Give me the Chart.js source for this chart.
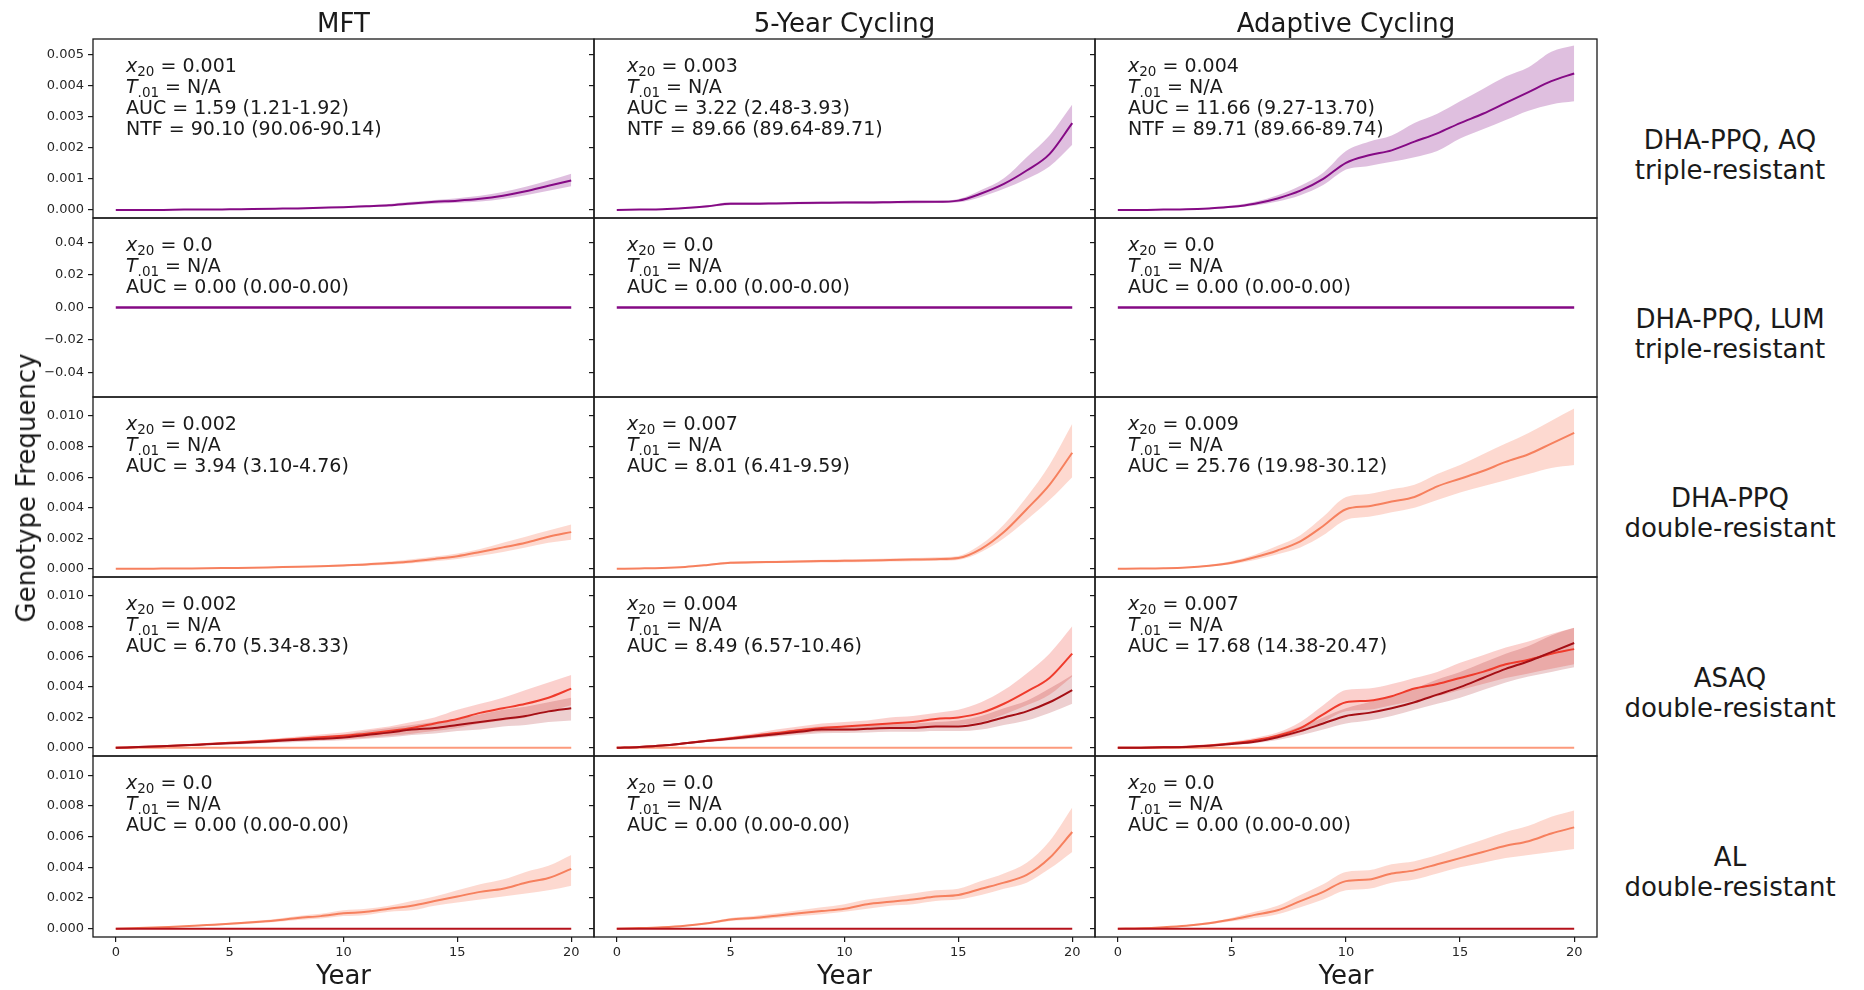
<!DOCTYPE html>
<html>
<head>
<meta charset="utf-8">
<script src="https://cdn.jsdelivr.net/npm/chart.js@4.4.1/dist/chart.umd.min.js"></script>
<style>
html, body { margin: 0; padding: 0; background: #fff; }
#fig { position: relative; width: 1864px; height: 990px; overflow: hidden; font-family: "DejaVu Sans", sans-serif; color: #1a1a1a; }
#fig canvas { position: absolute; }
.lbl { position: absolute; white-space: nowrap; transform: translate(-50%, -50%); font-size: 26px; }
.rowlab { position: absolute; white-space: nowrap; transform: translateX(-50%); text-align: center; font-size: 26px; line-height: 30px; }
.ylab { position: absolute; white-space: nowrap; transform: translate(-50%, -50%) rotate(-90deg); font-size: 26px; }
</style>
</head>
<body>
<div id="fig"></div>
<script>
// ---- data -------------------------------------------------------------
const years = [0, 1, 2, 3, 4, 5, 6, 7, 8, 9, 10, 11, 12, 13, 14, 15, 16, 17, 18, 19, 20];
const zeroLine = [0, 0, 0, 0, 0, 0, 0, 0, 0, 0, 0, 0, 0, 0, 0, 0, 0, 0, 0, 0, 0];

const strategies = ['MFT', '5-Year Cycling', 'Adaptive Cycling'];
const genotypes = [
  ['DHA-PPQ, AQ', 'triple-resistant'],
  ['DHA-PPQ, LUM', 'triple-resistant'],
  ['DHA-PPQ', 'double-resistant'],
  ['ASAQ', 'double-resistant'],
  ['AL', 'double-resistant']
];

const xTicks = [0, 5, 10, 15, 20];
const xTickLabels = ['0', '5', '10', '15', '20'];
const yTicksTriple = [0, 0.001, 0.002, 0.003, 0.004, 0.005];
const yLabelsTriple = ['0.000', '0.001', '0.002', '0.003', '0.004', '0.005'];
const yTicksFlat = [-0.04, -0.02, 0, 0.02, 0.04];
const yLabelsFlat = ['\u22120.04', '\u22120.02', '0.00', '0.02', '0.04'];
const yTicksDouble = [0, 0.002, 0.004, 0.006, 0.008, 0.010];
const yLabelsDouble = ['0.000', '0.002', '0.004', '0.006', '0.008', '0.010'];

// DHA-PPQ, AQ triple-resistant
const aqMftMean = [0, 0, 0, 0.00001, 0.00001, 0.00002, 0.00003, 0.00004, 0.00005, 0.00007, 0.00009, 0.00012, 0.00015, 0.00021, 0.00026, 0.0003, 0.00036, 0.00046, 0.0006, 0.00078, 0.00095];
const aqMftLo = [0, 0, 0, 0, 0.00001, 0.00001, 0.00002, 0.00003, 0.00004, 0.00005, 0.00007, 0.00009, 0.00011, 0.00016, 0.0002, 0.00023, 0.00027, 0.00035, 0.00047, 0.00062, 0.00076];
const aqMftHi = [0, 0, 0, 0.00001, 0.00002, 0.00003, 0.00004, 0.00005, 0.00007, 0.00009, 0.00011, 0.00015, 0.00019, 0.00026, 0.00032, 0.00038, 0.00046, 0.00058, 0.00075, 0.00095, 0.00117];
const aqCycMean = [0, 0.00001, 0.00002, 0.00006, 0.00012, 0.0002, 0.0002, 0.00021, 0.00022, 0.00023, 0.00024, 0.00024, 0.00025, 0.00026, 0.00026, 0.0003, 0.00053, 0.00084, 0.00127, 0.0018, 0.0028];
const aqCycLo = [0, 0.00001, 0.00001, 0.00004, 0.00009, 0.00016, 0.00017, 0.00018, 0.00018, 0.00019, 0.0002, 0.0002, 0.00021, 0.00021, 0.00022, 0.00025, 0.00042, 0.00068, 0.001, 0.0014, 0.0021];
const aqCycHi = [0, 0.00001, 0.00003, 0.00008, 0.00015, 0.00025, 0.00025, 0.00025, 0.00026, 0.00027, 0.00028, 0.00029, 0.00029, 0.0003, 0.0003, 0.00035, 0.00064, 0.00102, 0.0017, 0.0024, 0.0034];
const aqAdaMean = [0, 0, 0.00001, 0.00002, 0.00005, 0.0001, 0.0002, 0.00037, 0.00062, 0.001, 0.00152, 0.00176, 0.00192, 0.0022, 0.00247, 0.0028, 0.0031, 0.00345, 0.0038, 0.00415, 0.0044];
const aqAdaLo = [0, 0, 0.00001, 0.00001, 0.00003, 0.00007, 0.00014, 0.00027, 0.00047, 0.0008, 0.0013, 0.00142, 0.00155, 0.0017, 0.0019, 0.0023, 0.0026, 0.0029, 0.0032, 0.0034, 0.0035];
const aqAdaHi = [0, 0.00001, 0.00002, 0.00003, 0.00007, 0.00014, 0.00026, 0.00047, 0.00078, 0.0012, 0.0019, 0.0022, 0.0024, 0.0028, 0.0031, 0.0035, 0.0039, 0.0043, 0.0046, 0.0051, 0.0053];

// DHA-PPQ double-resistant
const ppqMftMean = [0, 0, 0.00001, 0.00002, 0.00003, 0.00005, 0.00007, 0.0001, 0.00013, 0.00017, 0.00022, 0.00028, 0.00037, 0.00048, 0.00064, 0.00082, 0.0011, 0.0014, 0.0017, 0.0021, 0.0024];
const ppqMftLo = [0, 0, 0, 0.00001, 0.00002, 0.00003, 0.00005, 0.00007, 0.00009, 0.00012, 0.00016, 0.0002, 0.00027, 0.00036, 0.00049, 0.00064, 0.00086, 0.0011, 0.0014, 0.0017, 0.0019];
const ppqMftHi = [0, 0, 0.00001, 0.00003, 0.00004, 0.00007, 0.0001, 0.00013, 0.00017, 0.00022, 0.00029, 0.00037, 0.00048, 0.00062, 0.0008, 0.001, 0.0013, 0.0017, 0.0021, 0.0025, 0.0029];
const ppqCycMean = [0, 0.00002, 0.00005, 0.00012, 0.00025, 0.0004, 0.00042, 0.00045, 0.00047, 0.0005, 0.00052, 0.00054, 0.00057, 0.0006, 0.00063, 0.0007, 0.0013, 0.0024, 0.0039, 0.0055, 0.0076];
const ppqCycLo = [0, 0.00001, 0.00004, 0.00009, 0.0002, 0.00033, 0.00035, 0.00037, 0.00039, 0.00041, 0.00043, 0.00045, 0.00047, 0.00049, 0.00052, 0.00058, 0.0011, 0.002, 0.0032, 0.0045, 0.006];
const ppqCycHi = [0, 0.00003, 0.00007, 0.00015, 0.0003, 0.00048, 0.0005, 0.00053, 0.00056, 0.00059, 0.00062, 0.00064, 0.00067, 0.0007, 0.00075, 0.00084, 0.0016, 0.0029, 0.0047, 0.0068, 0.0095];
const ppqAdaMean = [0, 0.00001, 0.00003, 0.00008, 0.0002, 0.0004, 0.00075, 0.0012, 0.0018, 0.0028, 0.0039, 0.0041, 0.0044, 0.0047, 0.0054, 0.0059, 0.0064, 0.007, 0.0075, 0.0082, 0.0089];
const ppqAdaLo = [0, 0.00001, 0.00002, 0.00006, 0.00015, 0.0003, 0.00058, 0.00095, 0.0014, 0.0022, 0.0032, 0.0034, 0.0037, 0.004, 0.0045, 0.005, 0.0054, 0.0058, 0.0062, 0.0066, 0.0068];
const ppqAdaHi = [0, 0.00002, 0.00004, 0.0001, 0.00025, 0.0005, 0.00092, 0.0015, 0.0022, 0.0034, 0.0047, 0.0049, 0.0052, 0.0055, 0.0062, 0.0068, 0.0075, 0.0082, 0.0089, 0.0097, 0.0105];

// ASAQ double-resistant: two genotypes per panel
const asaqMftRed = [0, 0.00005, 0.0001, 0.00017, 0.00025, 0.00033, 0.00041, 0.0005, 0.0006, 0.00069, 0.0008, 0.00093, 0.0011, 0.0013, 0.0016, 0.0019, 0.0023, 0.0026, 0.0029, 0.0033, 0.0039];
const asaqMftRedLo = [0, 0.00004, 0.00008, 0.00013, 0.00019, 0.00025, 0.0003, 0.00037, 0.00044, 0.0005, 0.00058, 0.00067, 0.0008, 0.00093, 0.0011, 0.0013, 0.0016, 0.0018, 0.002, 0.0024, 0.0028];
const asaqMftRedHi = [0, 0.00006, 0.00012, 0.0002, 0.0003, 0.0004, 0.0005, 0.00062, 0.00075, 0.00088, 0.001, 0.0012, 0.0014, 0.0017, 0.002, 0.0025, 0.0029, 0.0033, 0.0038, 0.0043, 0.0048];
const asaqMftDark = [0, 0.00005, 0.0001, 0.00016, 0.00023, 0.0003, 0.00037, 0.00045, 0.00053, 0.0006, 0.00068, 0.00085, 0.001, 0.0012, 0.0013, 0.0015, 0.0017, 0.0019, 0.0021, 0.0024, 0.0026];
const asaqMftDarkLo = [0, 0.00004, 0.00008, 0.00012, 0.00017, 0.00022, 0.00027, 0.00033, 0.00039, 0.00044, 0.0005, 0.0006, 0.0007, 0.00085, 0.00095, 0.0011, 0.0012, 0.0014, 0.0015, 0.0017, 0.0018];
const asaqMftDarkHi = [0, 0.00006, 0.00012, 0.0002, 0.00029, 0.00038, 0.00047, 0.00057, 0.00067, 0.00077, 0.00088, 0.0011, 0.0013, 0.0015, 0.0017, 0.0019, 0.0022, 0.0025, 0.0027, 0.003, 0.0033];
const asaqCycRed = [0, 0.00006, 0.00015, 0.0003, 0.00047, 0.00063, 0.0008, 0.00097, 0.00115, 0.0013, 0.0014, 0.0015, 0.0016, 0.0017, 0.0019, 0.002, 0.0023, 0.0029, 0.0037, 0.0046, 0.0062];
const asaqCycRedLo = [0, 0.00005, 0.00012, 0.00025, 0.00039, 0.00052, 0.00066, 0.0008, 0.00094, 0.00105, 0.0011, 0.0012, 0.00125, 0.0013, 0.0014, 0.0015, 0.0017, 0.0022, 0.0028, 0.0035, 0.0047];
const asaqCycRedHi = [0, 0.00007, 0.00018, 0.00036, 0.00056, 0.00075, 0.00095, 0.0012, 0.0014, 0.0016, 0.0017, 0.0018, 0.002, 0.0021, 0.0023, 0.0025, 0.003, 0.0038, 0.0049, 0.0062, 0.008];
const asaqCycDark = [0, 0.00006, 0.00015, 0.0003, 0.00046, 0.0006, 0.00075, 0.0009, 0.00105, 0.0012, 0.0012, 0.00125, 0.0013, 0.0013, 0.0014, 0.0014, 0.0016, 0.002, 0.0024, 0.003, 0.0038];
const asaqCycDarkLo = [0, 0.00005, 0.00012, 0.00025, 0.00038, 0.0005, 0.00062, 0.00074, 0.00086, 0.00096, 0.00098, 0.001, 0.00105, 0.00105, 0.0011, 0.0011, 0.0012, 0.0015, 0.0018, 0.0023, 0.0029];
const asaqCycDarkHi = [0, 0.00007, 0.00018, 0.00035, 0.00054, 0.0007, 0.00088, 0.00106, 0.00124, 0.0014, 0.0014, 0.00148, 0.00155, 0.0016, 0.0017, 0.0018, 0.0021, 0.0026, 0.0031, 0.0039, 0.0048];
const asaqAdaRed = [0, 0.00001, 0.00003, 0.00007, 0.00015, 0.0003, 0.0005, 0.0008, 0.0013, 0.0022, 0.003, 0.0031, 0.0034, 0.0039, 0.0042, 0.0046, 0.005, 0.0055, 0.0058, 0.0062, 0.0065];
const asaqAdaRedLo = [0, 0.00001, 0.00002, 0.00005, 0.00011, 0.00022, 0.00038, 0.0006, 0.001, 0.0017, 0.0024, 0.0025, 0.0028, 0.0031, 0.0034, 0.0038, 0.0042, 0.0046, 0.0049, 0.0052, 0.0055];
const asaqAdaRedHi = [0, 0.00001, 0.00004, 0.00009, 0.0002, 0.0004, 0.00065, 0.001, 0.0017, 0.0028, 0.0038, 0.0039, 0.0042, 0.0046, 0.005, 0.0056, 0.0061, 0.0066, 0.007, 0.0075, 0.0079];
const asaqAdaDark = [0, 0.00001, 0.00003, 0.00006, 0.00013, 0.00025, 0.0004, 0.0007, 0.0011, 0.0016, 0.0021, 0.0023, 0.0026, 0.003, 0.0035, 0.004, 0.0046, 0.0052, 0.0057, 0.0063, 0.0069];
const asaqAdaDarkLo = [0, 0.00001, 0.00002, 0.00004, 0.0001, 0.00019, 0.0003, 0.00052, 0.00082, 0.0012, 0.0016, 0.0018, 0.0021, 0.0025, 0.0029, 0.0033, 0.0038, 0.0043, 0.0047, 0.005, 0.0053];
const asaqAdaDarkHi = [0, 0.00001, 0.00004, 0.00008, 0.00017, 0.00032, 0.0005, 0.0009, 0.0014, 0.002, 0.0026, 0.003, 0.0034, 0.0039, 0.0045, 0.005, 0.0056, 0.0062, 0.0067, 0.0074, 0.0079];

// AL double-resistant
const alMftMean = [0, 0.00004, 0.0001, 0.00016, 0.00024, 0.00032, 0.00042, 0.00054, 0.0007, 0.00082, 0.001, 0.0011, 0.0013, 0.0015, 0.0018, 0.0021, 0.0024, 0.0026, 0.003, 0.0033, 0.0039];
const alMftLo = [0, 0.00003, 0.00008, 0.00013, 0.00019, 0.00026, 0.00034, 0.00044, 0.00057, 0.00067, 0.00082, 0.0009, 0.0011, 0.0012, 0.0015, 0.0017, 0.0019, 0.0021, 0.0023, 0.0025, 0.0028];
const alMftHi = [0, 0.00005, 0.00012, 0.00019, 0.00029, 0.00039, 0.0005, 0.00064, 0.00083, 0.00097, 0.0012, 0.0013, 0.0015, 0.0018, 0.0021, 0.0025, 0.0029, 0.0032, 0.0037, 0.0041, 0.0048];
const alCycMean = [0, 0.00004, 0.0001, 0.0002, 0.00036, 0.0006, 0.0007, 0.00085, 0.001, 0.00115, 0.0013, 0.0016, 0.00175, 0.0019, 0.0021, 0.0022, 0.0026, 0.003, 0.0035, 0.0046, 0.0063];
const alCycLo = [0, 0.00003, 0.00008, 0.00016, 0.0003, 0.0005, 0.00058, 0.0007, 0.00083, 0.00095, 0.0011, 0.0013, 0.0015, 0.0016, 0.0018, 0.0019, 0.0022, 0.0026, 0.003, 0.0039, 0.005];
const alCycHi = [0, 0.00005, 0.00012, 0.00024, 0.00042, 0.0007, 0.00083, 0.001, 0.0012, 0.0014, 0.0016, 0.0019, 0.0021, 0.0023, 0.0025, 0.0026, 0.0031, 0.0036, 0.0043, 0.0057, 0.0079];
const alAdaMean = [0, 0.00003, 0.0001, 0.0002, 0.00036, 0.0006, 0.0009, 0.0012, 0.0018, 0.0024, 0.0031, 0.0032, 0.0036, 0.0038, 0.0042, 0.0046, 0.005, 0.0054, 0.0057, 0.0062, 0.0066];
const alAdaLo = [0, 0.00002, 0.00008, 0.00016, 0.00029, 0.00048, 0.0007, 0.00095, 0.0014, 0.0019, 0.0025, 0.0026, 0.003, 0.0032, 0.0036, 0.004, 0.0043, 0.0046, 0.0048, 0.005, 0.0052];
const alAdaHi = [0, 0.00004, 0.00012, 0.00024, 0.00043, 0.00072, 0.0011, 0.0015, 0.0022, 0.0029, 0.0037, 0.0038, 0.0042, 0.0044, 0.0048, 0.0053, 0.0058, 0.0063, 0.0067, 0.0073, 0.0077];

// summary statistics printed in each panel
const x20Values = [
  ['0.001', '0.003', '0.004'],
  ['0.0', '0.0', '0.0'],
  ['0.002', '0.007', '0.009'],
  ['0.002', '0.004', '0.007'],
  ['0.0', '0.0', '0.0']
];
const t01Values = [
  ['N/A', 'N/A', 'N/A'],
  ['N/A', 'N/A', 'N/A'],
  ['N/A', 'N/A', 'N/A'],
  ['N/A', 'N/A', 'N/A'],
  ['N/A', 'N/A', 'N/A']
];
const aucValues = [
  ['1.59 (1.21-1.92)', '3.22 (2.48-3.93)', '11.66 (9.27-13.70)'],
  ['0.00 (0.00-0.00)', '0.00 (0.00-0.00)', '0.00 (0.00-0.00)'],
  ['3.94 (3.10-4.76)', '8.01 (6.41-9.59)', '25.76 (19.98-30.12)'],
  ['6.70 (5.34-8.33)', '8.49 (6.57-10.46)', '17.68 (14.38-20.47)'],
  ['0.00 (0.00-0.00)', '0.00 (0.00-0.00)', '0.00 (0.00-0.00)']
];
const ntfValues = [
  ['90.10 (90.06-90.14)', '89.66 (89.64-89.71)', '89.71 (89.66-89.74)'],
  null, null, null, null
];

// ---- styling ----------------------------------------------------------
const FONT = '"DejaVu Sans", sans-serif';
const INK = '#1a1a1a';
const PURPLE = '#850a85';
const PURPLE_BAND = 'rgba(128, 0, 128, 0.25)';
const SALMON = '#f6805e';
const SALMON_BAND = 'rgba(248, 130, 98, 0.3)';
const RED = '#ef3b2c';
const RED_BAND = 'rgba(239, 59, 44, 0.24)';
const DARK = '#a50f15';
const DARK_BAND = 'rgba(165, 15, 21, 0.2)';
const PALE = '#fc9a7c';
const DEEP = '#b5121b';

const rowEdges = [39, 218, 397, 577, 756, 937];
const colEdges = [93, 594, 1095, 1597];

const rowAxes = [
  { min: -0.00026, max: 0.00551, ticks: yTicksTriple, labels: yLabelsTriple },
  { min: -0.055, max: 0.055, ticks: yTicksFlat, labels: yLabelsFlat },
  { min: -0.00054, max: 0.01125, ticks: yTicksDouble, labels: yLabelsDouble },
  { min: -0.00054, max: 0.01125, ticks: yTicksDouble, labels: yLabelsDouble },
  { min: -0.00054, max: 0.01125, ticks: yTicksDouble, labels: yLabelsDouble }
];

// lines listed top-most first
const panels = [
  [
    { lines: [[aqMftMean, PURPLE]], bands: [[aqMftLo, aqMftHi, PURPLE_BAND]] },
    { lines: [[aqCycMean, PURPLE]], bands: [[aqCycLo, aqCycHi, PURPLE_BAND]] },
    { lines: [[aqAdaMean, PURPLE]], bands: [[aqAdaLo, aqAdaHi, PURPLE_BAND]] }
  ],
  [
    { lines: [[zeroLine, PURPLE]], bands: [] },
    { lines: [[zeroLine, PURPLE]], bands: [] },
    { lines: [[zeroLine, PURPLE]], bands: [] }
  ],
  [
    { lines: [[ppqMftMean, SALMON]], bands: [[ppqMftLo, ppqMftHi, SALMON_BAND]] },
    { lines: [[ppqCycMean, SALMON]], bands: [[ppqCycLo, ppqCycHi, SALMON_BAND]] },
    { lines: [[ppqAdaMean, SALMON]], bands: [[ppqAdaLo, ppqAdaHi, SALMON_BAND]] }
  ],
  [
    { lines: [[asaqMftDark, DARK], [asaqMftRed, RED], [zeroLine, PALE]],
      bands: [[asaqMftDarkLo, asaqMftDarkHi, DARK_BAND], [asaqMftRedLo, asaqMftRedHi, RED_BAND]] },
    { lines: [[asaqCycDark, DARK], [asaqCycRed, RED], [zeroLine, PALE]],
      bands: [[asaqCycDarkLo, asaqCycDarkHi, DARK_BAND], [asaqCycRedLo, asaqCycRedHi, RED_BAND]] },
    { lines: [[asaqAdaDark, DARK], [asaqAdaRed, RED], [zeroLine, PALE]],
      bands: [[asaqAdaDarkLo, asaqAdaDarkHi, DARK_BAND], [asaqAdaRedLo, asaqAdaRedHi, RED_BAND]] }
  ],
  [
    { lines: [[zeroLine, DEEP], [alMftMean, SALMON]], bands: [[alMftLo, alMftHi, SALMON_BAND]] },
    { lines: [[zeroLine, DEEP], [alCycMean, SALMON]], bands: [[alCycLo, alCycHi, SALMON_BAND]] },
    { lines: [[zeroLine, DEEP], [alAdaMean, SALMON]], bands: [[alAdaLo, alAdaHi, SALMON_BAND]] }
  ]
];

// ---- drawing ----------------------------------------------------------
const fig = document.getElementById('fig');

function points(values) {
  return years.map((x, i) => ({ x: x, y: values[i] }));
}

function addText(cls, text, left, top) {
  const el = document.createElement('div');
  el.className = cls;
  el.innerHTML = text;
  el.style.left = left + 'px';
  el.style.top = top + 'px';
  fig.appendChild(el);
}

function statLines(r, c) {
  const lines = [
    [['x', 'i'], ['20', 's'], [' = ' + x20Values[r][c], 'n']],
    [['T', 'i'], ['.01', 's'], [' = ' + t01Values[r][c], 'n']],
    [['AUC = ' + aucValues[r][c], 'n']]
  ];
  if (ntfValues[r]) lines.push([['NTF = ' + ntfValues[r][c], 'n']]);
  return lines;
}

// frame round the axes plus the statistics block in the upper left
function panelDecor(r, c) {
  return {
    id: 'panelDecor',
    afterDraw(chart) {
      const ctx = chart.ctx;
      const a = chart.chartArea;
      ctx.save();
      ctx.strokeStyle = INK;
      ctx.lineWidth = 1.3;
      ctx.strokeRect(a.left, a.top, a.right - a.left, a.bottom - a.top);
      ctx.fillStyle = INK;
      ctx.textBaseline = 'alphabetic';
      statLines(r, c).forEach((parts, i) => {
        let x = a.left + 33;
        const y = a.top + 33 + i * 21;
        parts.forEach(([txt, kind]) => {
          if (kind === 'i') ctx.font = 'italic 19px ' + FONT;
          else if (kind === 's') ctx.font = '13.5px ' + FONT;
          else ctx.font = '19px ' + FONT;
          ctx.fillText(txt, x, kind === 's' ? y + 4 : y);
          x += ctx.measureText(txt).width;
        });
      });
      ctx.restore();
    }
  };
}

function buildPanel(r, c) {
  const spec = panels[r][c];
  const axis = rowAxes[r];
  const bottomRow = r === rowEdges.length - 2;
  // margins wide enough that tick-label padding never squeezes the plot box
  const padL = c === 0 ? colEdges[0] : 10;
  const padR = 6;
  const padT = 16;
  const padB = bottomRow ? 990 - rowEdges[r + 1] : 16;
  const w = colEdges[c + 1] - colEdges[c];
  const h = rowEdges[r + 1] - rowEdges[r];

  const cv = document.createElement('canvas');
  cv.width = w + padL + padR;
  cv.height = h + padT + padB;
  cv.style.left = (colEdges[c] - padL) + 'px';
  cv.style.top = (rowEdges[r] - padT) + 'px';
  cv.style.width = cv.width + 'px';
  cv.style.height = cv.height + 'px';
  fig.appendChild(cv);

  const datasets = [];
  spec.lines.forEach(([values, color]) => {
    datasets.push({
      data: points(values), borderColor: color, borderWidth: r === 1 ? 2.6 : 2,
      pointRadius: 0, fill: false, cubicInterpolationMode: 'monotone'
    });
  });
  spec.bands.forEach(([lo, hi, color]) => {
    datasets.push({ data: points(hi), borderWidth: 0, borderColor: 'transparent', pointRadius: 0, backgroundColor: color, fill: '+1', cubicInterpolationMode: 'monotone' });
    datasets.push({ data: points(lo), borderWidth: 0, borderColor: 'transparent', pointRadius: 0, fill: false, cubicInterpolationMode: 'monotone' });
  });

  new Chart(cv, {
    type: 'line',
    data: { datasets: datasets },
    options: {
      responsive: false,
      animation: false,
      devicePixelRatio: 1,
      events: [],
      layout: { autoPadding: false, padding: { left: 0, top: padT, right: padR, bottom: 0 } },
      plugins: {
        legend: { display: false },
        tooltip: { enabled: false },
        filler: { drawTime: 'beforeDatasetsDraw' }
      },
      scales: {
        x: {
          type: 'linear', min: -1, max: 21,
          afterBuildTicks: s => { s.ticks = xTicks.map(v => ({ value: v })); },
          afterFit: s => { s.height = padB; },
          ticks: {
            display: bottomRow, autoSkip: false, maxRotation: 0, padding: 3,
            color: '#262626', font: { family: FONT, size: 13 },
            callback: (v, i) => xTickLabels[i]
          },
          grid: { display: bottomRow, drawOnChartArea: false, drawTicks: true, tickLength: 5, color: INK, lineWidth: 1.2 },
          border: { display: false }
        },
        y: {
          type: 'linear', min: axis.min, max: axis.max,
          afterBuildTicks: s => { s.ticks = axis.ticks.map(v => ({ value: v })); },
          afterFit: s => { s.width = padL; },
          ticks: {
            display: c === 0, autoSkip: false, padding: 4,
            color: '#262626', font: { family: FONT, size: 13 },
            callback: (v, i) => axis.labels[i]
          },
          grid: { drawOnChartArea: false, drawTicks: true, tickLength: 5, color: INK, lineWidth: 1.2 },
          border: { display: false }
        }
      }
    },
    plugins: [panelDecor(r, c)]
  });
}

for (let r = 0; r < panels.length; r++) {
  for (let c = 0; c < strategies.length; c++) buildPanel(r, c);
}

strategies.forEach((name, c) => {
  const mid = (colEdges[c] + colEdges[c + 1]) / 2;
  addText('lbl', name, mid, 23);
  addText('lbl', 'Year', mid, 975);
});
genotypes.forEach((lines, r) => {
  addText('rowlab', lines.join('<br>'), 1730, rowEdges[r] + 86);
});
addText('ylab', 'Genotype Frequency', 26, (rowEdges[0] + rowEdges[5]) / 2);
</script>
</body>
</html>
